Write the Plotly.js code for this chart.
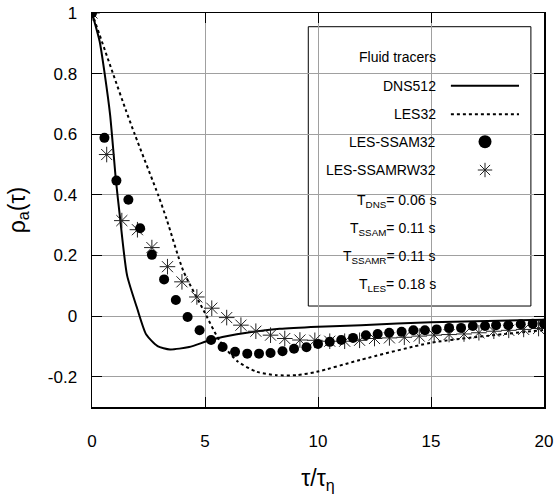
<!DOCTYPE html>
<html>
<head>
<meta charset="utf-8">
<script src="https://cdn.plot.ly/plotly-3.0.1.min.js"></script>
<style>html,body{margin:0;padding:0;background:#fff;}#chart{width:555px;height:499px;}</style>
</head>
<body>
<div id="chart"></div>
<script>
// DNS512 (solid line)
const dnsX = [0, 0.34, 0.56, 0.8, 1.06, 1.24, 1.55, 2.0, 2.4, 2.9, 3.45, 4.3, 5.2, 6.0, 6.85, 8.3, 10, 11.9, 15, 20];
const dnsY = [1, 0.906, 0.80, 0.665, 0.447, 0.325, 0.135, 0.025, -0.061, -0.099, -0.11, -0.102, -0.08, -0.066, -0.055, -0.042, -0.035, -0.03, -0.02, -0.012];
// LES32 (dotted line)
const lesX = [0, 0.93, 1.5, 1.9, 2.94, 3.3, 4.04, 5.0, 5.66, 6.45, 7.29, 8.17, 9.05, 9.94, 11.86, 15, 20];
const lesY = [1, 0.80, 0.679, 0.598, 0.397, 0.32, 0.149, 0.01, -0.083, -0.15, -0.184, -0.195, -0.195, -0.184, -0.145, -0.088, -0.046];
// LES-SSAM32 (filled circles)
const ssamX = [0, 0.55, 1.08, 1.61, 2.13, 2.65, 3.19, 3.71, 4.23, 4.76, 5.27, 5.78, 6.33, 6.87, 7.39, 7.9, 8.43, 8.94, 9.49, 10.0, 10.52, 11.03, 11.55, 12.12, 12.64, 13.15, 13.7, 14.22, 14.73, 15.25, 15.8, 16.33, 16.85, 17.39, 17.88, 18.42, 18.97, 19.5, 20.0];
const ssamY = [1, 0.588, 0.447, 0.384, 0.29, 0.202, 0.121, 0.053, -0.003, -0.047, -0.079, -0.102, -0.118, -0.124, -0.124, -0.122, -0.116, -0.108, -0.103, -0.092, -0.085, -0.079, -0.072, -0.063, -0.059, -0.055, -0.052, -0.047, -0.047, -0.044, -0.039, -0.039, -0.033, -0.033, -0.03, -0.03, -0.027, -0.025, -0.025];
// LES-SSAMRW32 (asterisks)
const rwX = [0, 0.65, 1.32, 2.01, 2.65, 3.34, 3.98, 4.64, 5.3, 5.96, 6.59, 7.25, 7.9, 8.53, 9.2, 9.86, 10.52, 11.18, 11.84, 12.5, 13.16, 13.82, 14.48, 15.14, 15.8, 16.46, 17.12, 17.78, 18.44, 19.1, 19.76];
const rwY = [1, 0.533, 0.315, 0.285, 0.226, 0.163, 0.113, 0.063, 0.026, -0.005, -0.03, -0.05, -0.063, -0.074, -0.079, -0.08, -0.083, -0.083, -0.08, -0.074, -0.072, -0.07, -0.066, -0.063, -0.061, -0.059, -0.055, -0.05, -0.047, -0.044, -0.041];

const xTicks = [0, 5, 10, 15, 20];
const yTicks = [-0.2, 0, 0.2, 0.4, 0.6, 0.8, 1];
const yTickText = ['-0.2', '0', '0.2', '0.4', '0.6', '0.8', '1'];

const legendLines = ['Fluid tracers', 'DNS512', 'LES32', 'LES-SSAM32', 'LES-SSAMRW32',
  'T<sub>DNS</sub>= 0.06 s', 'T<sub>SSAM</sub>= 0.11 s', 'T<sub>SSAMR</sub>= 0.11 s', 'T<sub>LES</sub>= 0.18 s'];

const FONT = 'Liberation Sans, Arial, Helvetica, sans-serif';

// legend layout (paper coords)
const boxX0 = 0.4785, boxX1 = 0.971, boxY0 = 0.2563, boxY1 = 0.9652;
const rowY = [0.8876, 0.8155, 0.7429, 0.6734, 0.6015, 0.522, 0.452, 0.380, 0.310];
const textRight = 0.766;
const sampX0 = 0.794, sampX1 = 0.9447, sampMid = 0.8695;

const traces = [
  {x: dnsX, y: dnsY, mode: 'lines', line: {color: '#000', width: 2, shape: 'spline', smoothing: 0.6}, hoverinfo: 'skip'},
  {x: lesX, y: lesY, mode: 'lines', line: {color: '#000', width: 2, dash: 'dot', shape: 'spline', smoothing: 0.6}, hoverinfo: 'skip'},
  {x: rwX, y: rwY, mode: 'markers', marker: {symbol: 'asterisk-open', size: 13, color: '#222', line: {color: '#222', width: 1}}, hoverinfo: 'skip'},
  {x: ssamX, y: ssamY, mode: 'markers', marker: {symbol: 'circle', size: 10, color: '#000'}, hoverinfo: 'skip'},
  // legend samples on overlay axes
  {x: [sampMid], y: [rowY[3]], xaxis: 'x2', yaxis: 'y2', mode: 'markers', marker: {symbol: 'circle', size: 13, color: '#000'}, hoverinfo: 'skip'},
  {x: [sampMid], y: [rowY[4]], xaxis: 'x2', yaxis: 'y2', mode: 'markers', marker: {symbol: 'asterisk-open', size: 12, color: '#222', line: {color: '#222', width: 1}}, hoverinfo: 'skip'}
];

const annotations = legendLines.map((t, i) => ({
  xref: 'paper', yref: 'paper', x: textRight, y: rowY[i], xanchor: 'right', yanchor: 'middle',
  text: t, showarrow: false, font: {family: FONT, size: 14, color: '#000'}
}));

const shapes = [
  {type: 'rect', xref: 'paper', yref: 'paper', x0: boxX0, x1: boxX1, y0: boxY0, y1: boxY1,
   fillcolor: '#fff', line: {color: '#000', width: 1}, layer: 'between'},
  {type: 'line', xref: 'paper', yref: 'paper', x0: sampX0, x1: sampX1, y0: rowY[1], y1: rowY[1],
   line: {color: '#000', width: 2}, layer: 'above'},
  {type: 'line', xref: 'paper', yref: 'paper', x0: sampX0, x1: sampX1, y0: rowY[2], y1: rowY[2],
   line: {color: '#000', width: 2, dash: 'dot'}, layer: 'above'}
];

const axisCommon = {
  showline: true, linecolor: '#000', linewidth: 1.5, mirror: 'ticks',
  ticks: 'inside', ticklen: 10, tickcolor: '#000', tickwidth: 1,
  showgrid: true, gridcolor: '#a0a0a0', gridwidth: 1, zeroline: false,
  tickfont: {family: FONT, size: 17, color: '#000'}
};

const layout = {
  width: 555, height: 499,
  margin: {l: 92, r: 11, t: 13, b: 92},
  paper_bgcolor: '#fff', plot_bgcolor: '#fff',
  showlegend: false,
  font: {family: FONT, color: '#000'},
  xaxis: Object.assign({}, axisCommon, {
    range: [0, 20], tickmode: 'array', tickvals: xTicks, ticklabelstandoff: 18,
    title: {text: 'τ/τ<sub>η</sub>', font: {family: FONT, size: 23, color: '#000'}, standoff: 20}
  }),
  yaxis: Object.assign({}, axisCommon, {
    range: [-0.3, 1], tickmode: 'array', tickvals: yTicks, ticktext: yTickText, ticklabelstandoff: 10,
    title: {text: 'ρ<sub>a</sub>(τ)', font: {family: FONT, size: 23, color: '#000'}, standoff: 16}
  }),
  xaxis2: {overlaying: 'x', range: [0, 1], visible: false, fixedrange: true},
  yaxis2: {overlaying: 'y', range: [0, 1], visible: false, fixedrange: true},
  shapes: shapes,
  annotations: annotations
};

Plotly.newPlot('chart', traces, layout, {staticPlot: true, displayModeBar: false});
</script>
</body>
</html>
